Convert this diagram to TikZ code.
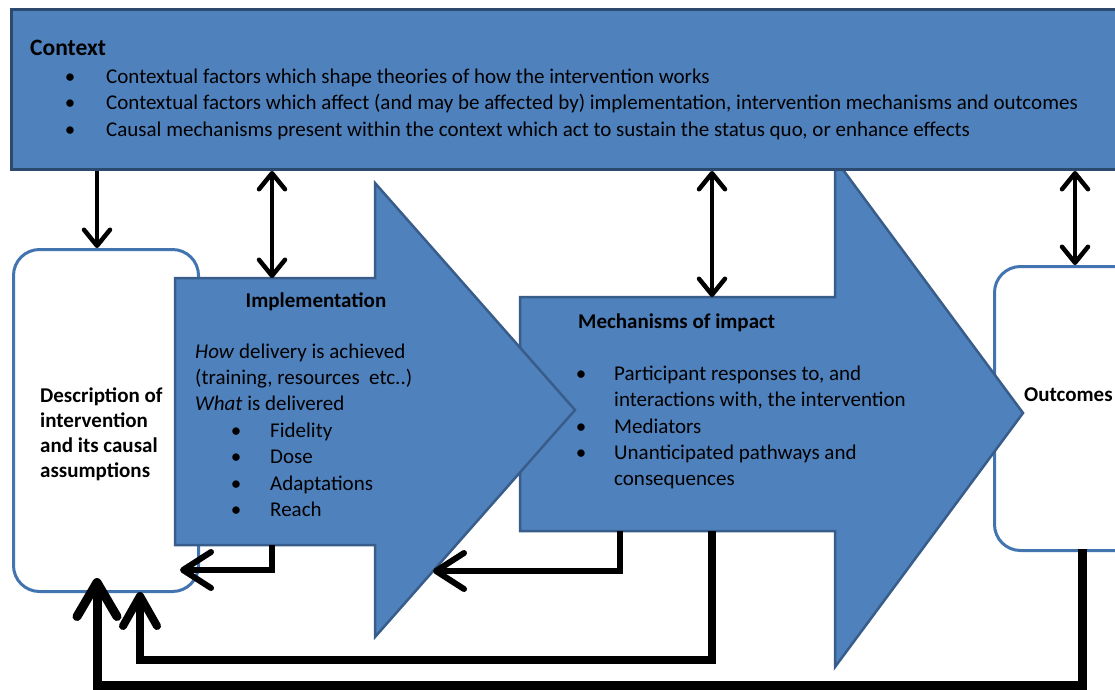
\documentclass[tikz,border=0pt]{standalone}
\usepackage{fontspec}
\setmainfont{Carlito}
\usetikzlibrary{arrows.meta}
\definecolor{shapefill}{HTML}{4F81BD}
\definecolor{shapeedge}{HTML}{385D8A}
\definecolor{ctxedge}{HTML}{2C4A70}
\definecolor{roundedge}{HTML}{4274B0}
\tikzset{
  body/.style={font=\fontsize{21}{26}\selectfont, inner sep=0pt, anchor=base west},
  head/.style={font=\fontsize{21}{26}\selectfont\bfseries, inner sep=0pt, anchor=base west},
  dot/.style={font=\fontsize{21}{26}\selectfont, inner sep=0pt, anchor=base},
  flowshape/.style={fill=shapefill, draw=shapeedge, line width=2.5pt, line join=miter},
  roundbox/.style={draw=roundedge, fill=white, line width=3pt, rounded corners=26pt,
    inner sep=0pt, anchor=north west},
  link/.style={line width=4.5pt, -{Straight Barb[length=16pt,width=26pt,round]}},
  dlink/.style={line width=4.5pt,
    {Straight Barb[length=16pt,width=26pt,round]}-{Straight Barb[length=16pt,width=26pt,round]}},
  back/.style={line width=6pt, line join=miter, -{Straight Barb[length=28pt,width=36pt,round]}},
}
\begin{document}
\begin{tikzpicture}[x=1pt,y=-1pt]
\useasboundingbox (0,0) rectangle (1115,689);
\fill[white] (0,0) rectangle (1115,689);

% side boxes
\node[roundbox, minimum width=160pt, minimum height=284pt] (out) at (993,265) {};
\node[roundbox, minimum width=185pt, minimum height=342pt] (desc) at (12,248) {};

% block arrow: mechanisms of impact
\coordinate (mech-top) at (712,297);
\coordinate (mech-b1) at (620,531);
\coordinate (mech-b2) at (712,531);
\draw[flowshape] (520,297) -- (835,297) -- (835,159) -- (1023,413) -- (835,667)
  -- (835,531) -- (520,531) -- cycle;

% block arrow: implementation
\coordinate (impl-top) at (272,278);
\coordinate (impl-bot) at (272,545);
\draw[flowshape] (175,278) -- (375,278) -- (375,183) -- (575,410) -- (375,637)
  -- (375,545) -- (175,545) -- cycle;
\coordinate (impl-head) at (433,571);

% context banner
\node[draw=ctxedge, fill=shapefill, line width=3pt, minimum width=1115pt,
  minimum height=160pt, anchor=north west, inner sep=0pt] (ctx) at (10,8) {};

% anchor points on the side boxes
\coordinate (desc-top) at (97,248);
\coordinate (desc-side) at (180,570);
\coordinate (desc-low1) at (140,592);
\coordinate (desc-low2) at (97,578);
\coordinate (out-top) at (1075,265);
\coordinate (out-bot) at (1082,549);

% context text
\node[head, font=\fontsize{23.5}{26}\selectfont\bfseries] (ctx-title) at (30,55) {Context};
\node[dot] (ctx-d1) at (70,83) {\textbullet};
\node[body] (ctx-l1) at (106,83) {Contextual factors which shape theories of how the intervention works};
\node[dot] (ctx-d2) at (70,109.5) {\textbullet};
\node[body] (ctx-l2) at (106,109.5) {Contextual factors which affect (and may be affected by) implementation, intervention mechanisms and outcomes};
\node[dot] (ctx-d3) at (70,136) {\textbullet};
\node[body] (ctx-l3) at (106,136) {Causal mechanisms present within the context which act to sustain the status quo, or enhance effects};

% implementation text
\node[head, anchor=base] (impl-title) at (316,307) {Implementation};
\node[body] (impl-l1) at (195,358) {\textit{How} delivery is achieved};
\node[body] (impl-l2) at (195,384) {(training, resources\ \ etc..)};
\node[body] (impl-l3) at (195,410) {\textit{What} is delivered};
\node[dot] (impl-d1) at (236,437) {\textbullet};
\node[body] (impl-i1) at (270,437) {Fidelity};
\node[dot] (impl-d2) at (236,463.5) {\textbullet};
\node[body] (impl-i2) at (270,463.5) {Dose};
\node[dot] (impl-d3) at (236,490) {\textbullet};
\node[body] (impl-i3) at (270,490) {Adaptations};
\node[dot] (impl-d4) at (236,516.5) {\textbullet};
\node[body] (impl-i4) at (270,516.5) {Reach};

% mechanisms text
\node[head] (mech-title) at (578,328) {Mechanisms of impact};
\node[dot] (mech-d1) at (581,380) {\textbullet};
\node[body] (mech-l1) at (614,380) {Participant responses to, and};
\node[body] (mech-l2) at (614,406) {interactions with, the intervention};
\node[dot] (mech-d2) at (581,433) {\textbullet};
\node[body] (mech-l3) at (614,433) {Mediators};
\node[dot] (mech-d3) at (581,459) {\textbullet};
\node[body] (mech-l4) at (614,459) {Unanticipated pathways and};
\node[body] (mech-l5) at (614,485) {consequences};

% side box labels
\node[head] (desc-l1) at (40,402) {Description of};
\node[head] (desc-l2) at (40,427) {intervention};
\node[head] (desc-l3) at (40,452) {and its causal};
\node[head] (desc-l4) at (40,477) {assumptions};
\node[head] (out-label) at (1024,401) {Outcomes};

% links with the context
\draw[link] (ctx.south -| desc-top) -- (desc-top);
\draw[dlink] (ctx.south -| impl-top) -- (impl-top);
\draw[dlink] (ctx.south -| mech-top) -- (mech-top);
\draw[dlink] (ctx.south -| out-top) -- (out-top);

% feedback loops
\draw[back] (impl-bot) |- (desc-side);
\draw[back] (mech-b1) |- (impl-head);
\draw[back, line width=8pt, -{Straight Barb[length=30pt,width=34pt,round]}]
  (mech-b2) |- (desc-low1 |- 0,660) -- (desc-low1);
\draw[back, line width=9pt, -{Straight Barb[length=34pt,width=40pt,round]}]
  (out-bot) |- (desc-low2 |- 0,685) -- (desc-low2);
\end{tikzpicture}
\end{document}
